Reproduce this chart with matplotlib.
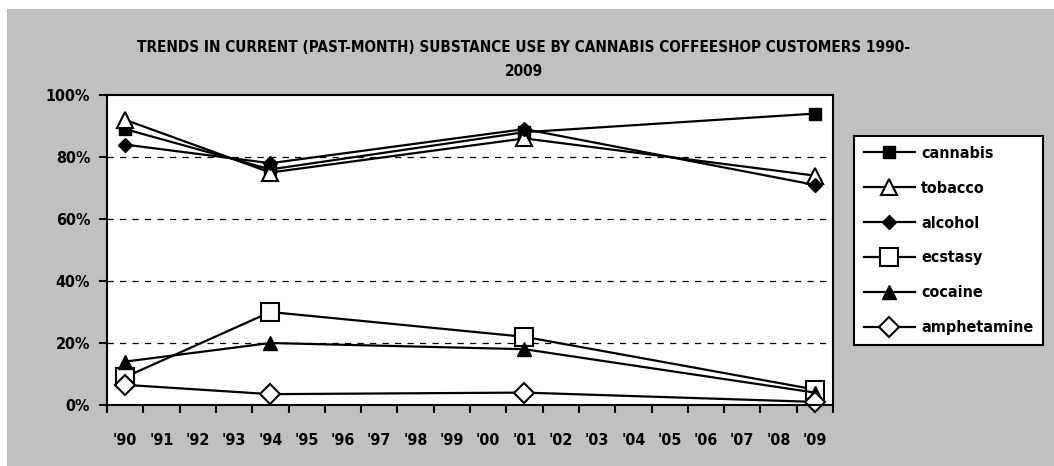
import matplotlib
matplotlib.use("Agg")
import matplotlib.pyplot as plt
from matplotlib.patches import Rectangle
from matplotlib import font_manager as fm

# prefer a condensed face if one is installed
cands = [f for f in fm.fontManager.ttflist if ('Narrow' in f.name or 'Condensed' in f.name or 'ondensed' in str(f.stretch))]
print(sorted(set((f.name, f.style, f.weight, f.stretch) for f in cands)))

plt.rcParams['font.family'] = ['DejaVu Sans']
plt.rcParams['font.weight'] = 'bold'
plt.rcParams['font.stretch'] = 'condensed'

year_labels = ["'90", "'91", "'92", "'93", "'94", "'95", "'96", "'97", "'98", "'99",
               "'00", "'01", "'02", "'03", "'04", "'05", "'06", "'07", "'08", "'09"]
survey_idx = [0, 4, 11, 19]  # '90, '94, '01, '09

cannabis = [89, 76, 88, 94]
tobacco = [92, 75, 86, 74]
alcohol = [84, 78, 89, 71]
ecstasy = [9, 30, 22, 5]
cocaine = [14, 20, 18, 4]
amphetamine = [6.5, 3.5, 4, 1]

series = [
    ("cannabis", cannabis, dict(marker='s', ms=9, mfc='black', mec='black')),
    ("tobacco", tobacco, dict(marker='^', ms=11, mfc='white', mec='black', mew=1.5)),
    ("alcohol", alcohol, dict(marker='D', ms=7, mfc='black', mec='black')),
    ("ecstasy", ecstasy, dict(marker='s', ms=13, mfc='white', mec='black', mew=1.5)),
    ("cocaine", cocaine, dict(marker='^', ms=10, mfc='black', mec='black')),
    ("amphetamine", amphetamine, dict(marker='D', ms=10, mfc='white', mec='black', mew=1.5)),
]

W, H = 1054, 466
fig = plt.figure(figsize=(W / 100, H / 100), dpi=100)
fig.patch.set_facecolor('white')
fig.patches.append(Rectangle((7 / W, 0), 1 - 7 / W, 1 - 9 / H, transform=fig.transFigure,
                             facecolor='#c0c0c0', edgecolor='none', zorder=-10))

ax = fig.add_axes([107 / W, (H - 405) / H, 726 / W, 310 / H])
ax.set_facecolor('white')

xs = [i + 0.5 for i in survey_idx]
for name, vals, st in series:
    ax.plot(xs, vals, color='black', lw=1.6, label=name, clip_on=False, **st)

ax.set_xlim(0, 20)
ax.set_ylim(0, 100)
ax.set_yticks([0, 20, 40, 60, 80, 100])
ax.set_yticklabels(['0%', '20%', '40%', '60%', '80%', '100%'], fontsize=11.5, fontweight='bold')
ax.set_xticks(range(21))
ax.set_xticklabels([])
ax.set_xticks([i + 0.5 for i in range(20)], minor=True)
ax.set_xticklabels(year_labels, minor=True, fontsize=11.5, fontweight='bold')
ax.tick_params(axis='x', which='major', direction='out', length=6, width=1.5)
ax.tick_params(axis='x', which='minor', length=0, pad=20)
ax.tick_params(axis='y', direction='out', length=6, width=1.5, pad=6)
for y in [20, 40, 60, 80]:
    ax.axhline(y, color='black', lw=0.9, ls=(0, (5, 5)), zorder=0)
for s in ax.spines.values():
    s.set_linewidth(1.5)

fig.text(0.497, 1 - 40 / H, "TRENDS IN CURRENT (PAST-MONTH) SUBSTANCE USE BY CANNABIS COFFEESHOP CUSTOMERS 1990-\n2009",
         ha='center', va='top', fontsize=11, fontweight='bold', linespacing=1.75)

leg = fig.legend(loc='upper left', bbox_to_anchor=(854 / W, 1 - 136 / H), bbox_transform=fig.transFigure,
                 frameon=True, fancybox=False, edgecolor='black', facecolor='white', framealpha=1,
                 fontsize=11.5, handlelength=3.2, labelspacing=1.25, borderpad=0.6, handletextpad=0.4,
                 borderaxespad=0)
leg.get_frame().set_linewidth(1.5)
for t in leg.get_texts():
    t.set_fontweight('bold')

fig.savefig('out.png', dpi=100, facecolor=fig.get_facecolor())
